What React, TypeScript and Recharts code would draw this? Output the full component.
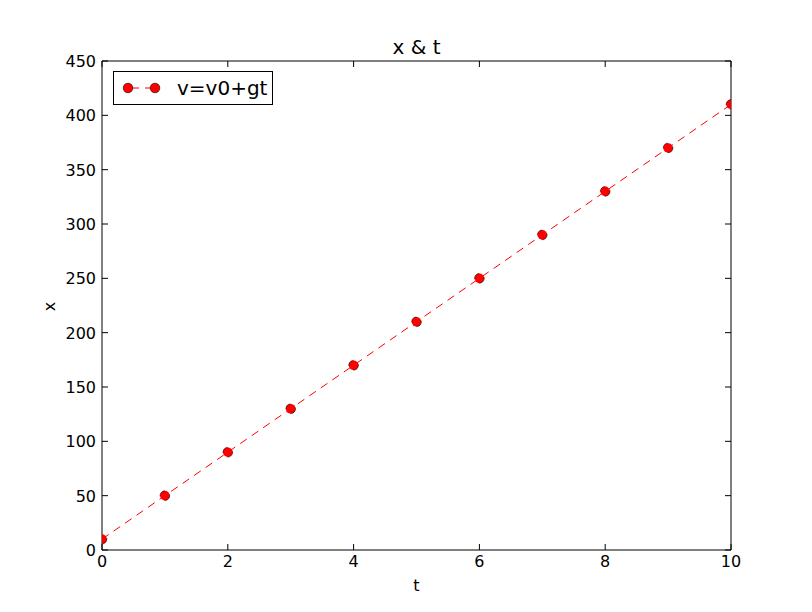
import { LineChart, Line, XAxis, YAxis, Legend } from "recharts";

const tValues = [0, 1, 2, 3, 4, 5, 6, 7, 8, 9, 10];
const xValues = [10, 50, 90, 130, 170, 210, 250, 290, 330, 370, 410];
const xTicks = [0, 2, 4, 6, 8, 10];
const yTicks = [0, 50, 100, 150, 200, 250, 300, 350, 400, 450];
const seriesName = "v=v0+gt";
const chartTitle = "x & t";

const data = tValues.map((t, i) => ({ t, x: xValues[i] }));

const FONT = "'DejaVu Sans', sans-serif";
const TICK_LEN = 6;
const DOT_R = 4.8;

const BottomTick = (props: any) => {
  const { x, y, payload } = props;
  return (
    <g>
      <line x1={x} y1={y} x2={x} y2={y - TICK_LEN} stroke="#000" />
      <text x={x} y={y + 17} textAnchor="middle" fontSize={16} fill="#000" fontFamily={FONT}>
        {payload.value}
      </text>
    </g>
  );
};

const LeftTick = (props: any) => {
  const { x, y, payload } = props;
  return (
    <g>
      <line x1={x} y1={y} x2={x + TICK_LEN} y2={y} stroke="#000" />
      <text x={x - 6} y={y + 6} textAnchor="end" fontSize={16} fill="#000" fontFamily={FONT}>
        {payload.value}
      </text>
    </g>
  );
};

const TopTick = (props: any) => {
  const { x, y } = props;
  return <line x1={x} y1={y} x2={x} y2={y + TICK_LEN} stroke="#000" />;
};

const RightTick = (props: any) => {
  const { x, y } = props;
  return <line x1={x} y1={y} x2={x - TICK_LEN} y2={y} stroke="#000" />;
};

const LegendBox = () => (
  <div style={{ border: "1px solid #000", background: "#fff", width: 158, height: 32 }}>
    <svg width={158} height={32} style={{ display: "block" }}>
      <line x1={14} y1={16} x2={41} y2={16} stroke="red" strokeDasharray="8 6" strokeDashoffset={-3} />
      <circle cx={14} cy={16} r={DOT_R} fill="red" stroke="#000" strokeWidth={0.6} />
      <circle cx={41} cy={16} r={DOT_R} fill="red" stroke="#000" strokeWidth={0.6} />
      <text x={63} y={23} fontSize={20} fill="#000" fontFamily={FONT}>
        {seriesName}
      </text>
    </svg>
  </div>
);

const YLabel = (props: any) => {
  const vb = props.viewBox;
  const cx = vb.x + 49;
  const cy = vb.y + vb.height / 2 + 1;
  return (
    <text
      x={cx}
      y={cy}
      transform={`rotate(-90 ${cx} ${cy})`}
      textAnchor="middle"
      dominantBaseline="central"
      fontSize={16}
      fill="#000"
      fontFamily={FONT}
    >
      x
    </text>
  );
};

const TitleLabel = (props: any) => {
  const vb = props.viewBox;
  return (
    <text
      x={vb.x + vb.width / 2}
      y={vb.y + vb.height - 7}
      textAnchor="middle"
      fontSize={20}
      fill="#000"
      fontFamily={FONT}
    >
      {chartTitle}
    </text>
  );
};

export default function App() {
  return (
    <div style={{ position: "absolute", left: 0, top: 0, width: 812, height: 612, background: "#fff" }}>
      <LineChart
        width={800}
        height={600}
        data={data}
        margin={{ top: 60, right: 68, left: 0, bottom: 0 }}
        style={{ fontFamily: FONT }}
      >
        <XAxis
          dataKey="t"
          type="number"
          domain={[0, 10]}
          ticks={xTicks}
          allowDataOverflow
          height={50}
          tickSize={0}
          tickMargin={0}
          tickLine={false}
          tick={<BottomTick />}
          axisLine={{ stroke: "#000", strokeWidth: 1 }}
          label={{ value: "t", position: "insideBottom", offset: 9, fontSize: 16, fill: "#000" }}
        />
        <XAxis
          xAxisId="top"
          orientation="top"
          dataKey="t"
          type="number"
          domain={[0, 10]}
          ticks={xTicks}
          allowDataOverflow
          height={1}
          tickSize={0}
          tickMargin={0}
          tickLine={false}
          tick={<TopTick />}
          axisLine={{ stroke: "#000", strokeWidth: 1 }}
          label={{ content: <TitleLabel /> }}
        />
        <YAxis
          type="number"
          domain={[0, 450]}
          ticks={yTicks}
          allowDataOverflow
          width={102}
          tickSize={0}
          tickMargin={0}
          tickLine={false}
          tick={<LeftTick />}
          axisLine={{ stroke: "#000", strokeWidth: 1 }}
          label={{ content: <YLabel /> }}
        />
        <YAxis
          yAxisId="right"
          orientation="right"
          type="number"
          domain={[0, 450]}
          ticks={yTicks}
          allowDataOverflow
          width={1}
          tickSize={0}
          tickMargin={0}
          tickLine={false}
          tick={<RightTick />}
          axisLine={{ stroke: "#000", strokeWidth: 1 }}
        />
        <Legend
          layout="vertical"
          align="center"
          verticalAlign="middle"
          content={<LegendBox />}
          wrapperStyle={{ left: 113, top: 71, width: "auto", height: "auto" }}
        />
        <Line
          dataKey="x"
          name={seriesName}
          stroke="red"
          strokeWidth={1}
          strokeDasharray="8 6"
          dot={{ r: DOT_R, fill: "red", stroke: "#000", strokeWidth: 0.6 }}
          activeDot={false}
          isAnimationActive={false}
        />
      </LineChart>
    </div>
  );
}
